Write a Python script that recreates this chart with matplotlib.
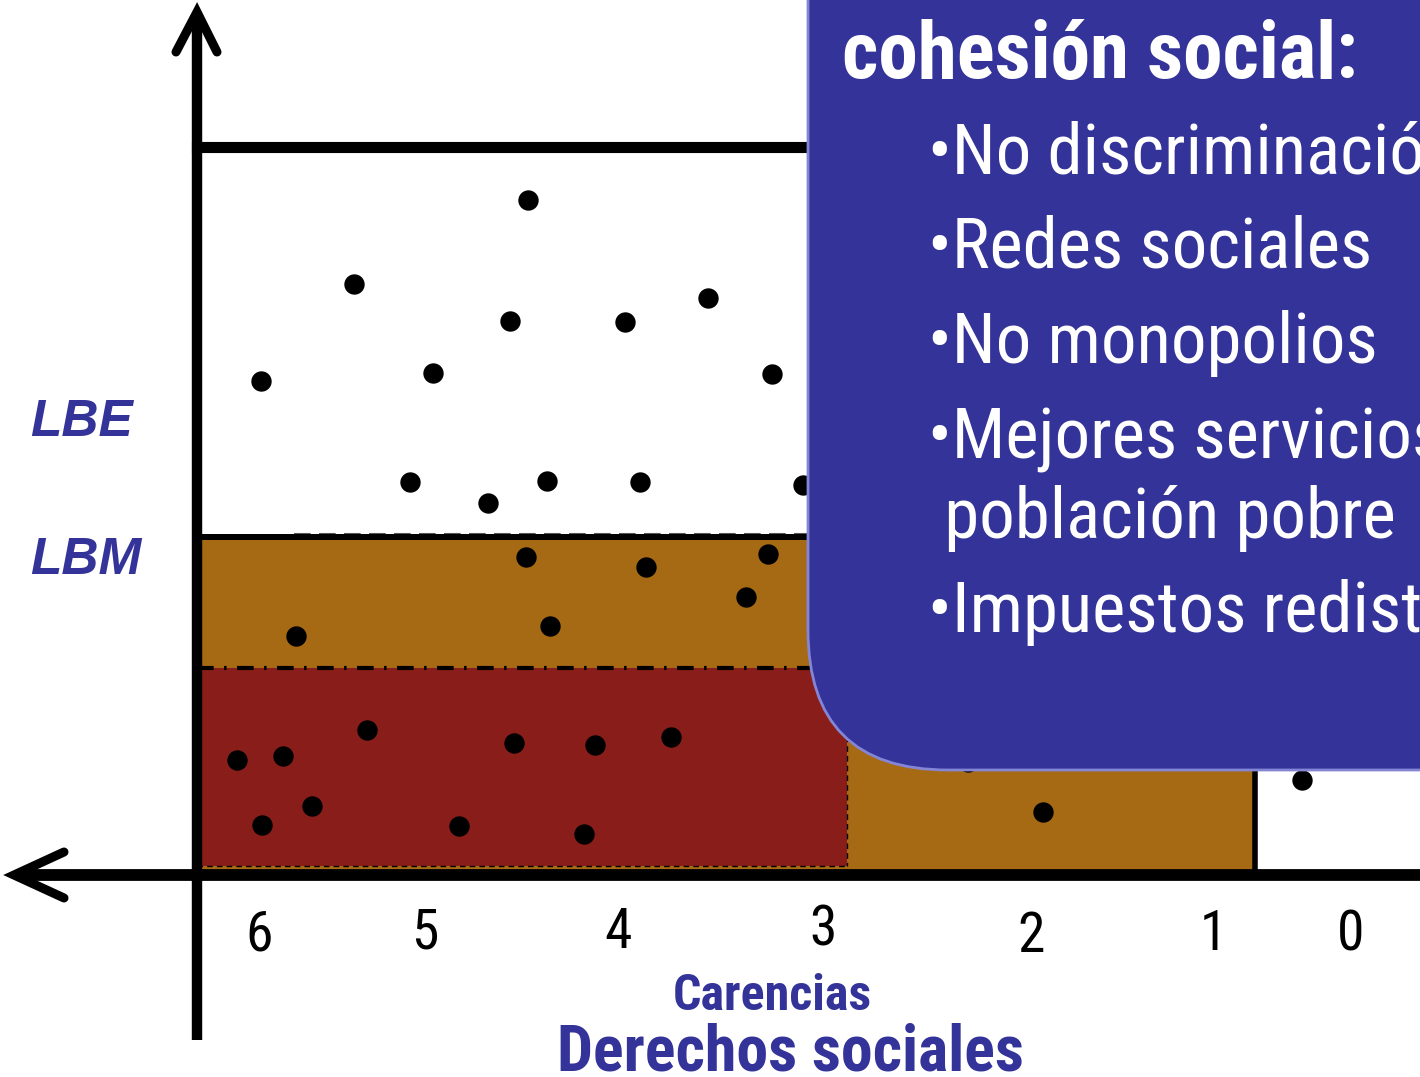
import matplotlib
matplotlib.use("Agg")
import matplotlib.pyplot as plt
from matplotlib.patches import Rectangle, FancyBboxPatch

# scatter of households (layout units, y grows downwards)
white_x = [528, 354, 510, 625, 708, 261, 433, 772, 410, 488, 547, 640, 803, 1302]
white_y = [200, 284, 321, 322, 298, 381, 373, 374, 482, 503, 481, 482, 485, 780]
orange_x = [526, 646, 768, 746, 550, 296, 1043, 968]
orange_y = [557, 567, 554, 597, 626, 636, 812, 762]
red_x = [237, 283, 367, 514, 595, 671, 262, 312, 459, 584]
red_y = [760, 756, 730, 743, 745, 737, 825, 806, 826, 834]

tick_labels = ["6", "5", "4", "3", "2", "1", "0"]
tick_x = [259, 425, 618, 823, 1031, 1213, 1351]
tick_y = [935, 933, 933, 930, 937, 935, 935]

bullets = ["•No discriminación", "•Redes sociales", "•No monopolios",
           "•Mejores servicios para la", " población pobre",
           "•Impuestos redistributivos"]
bullet_y = [173, 268, 363, 458, 538, 632]

# band limits
x0, x_red, x_orange = 197, 847, 1255
y_lbe, y_lbm, y_axis, y_top = 537, 668, 875, 147

ORANGE = "#A76A14"
RED = "#891D19"
BLUE = "#333399"
narrow = ["Liberation Sans Narrow", "Roboto Condensed", "Open Sans Condensed",
          "Liberation Sans", "DejaVu Sans"]

fig = plt.figure(figsize=(14.2, 10.77), dpi=100)
ax = fig.add_axes([0, 0, 1, 1])
ax.set_xlim(0, 1420)
ax.set_ylim(1077, 0)
ax.axis("off")

# coloured bands
ax.add_patch(Rectangle((x0, y_lbe), x_orange - x0, y_axis - y_lbe,
                       facecolor=ORANGE, edgecolor="none", zorder=1))
ax.add_patch(Rectangle((x0, y_lbm), x_red - x0, 866 - y_lbm,
                       facecolor=RED, edgecolor="none", zorder=2))

# band borders
ax.plot([294, x_orange], [533.5, 533.5], color="#555555", lw=1.5,
        linestyle=(0, (8, 4)), zorder=3)
ax.plot([x0, x_orange], [y_lbe, y_lbe], color="black", lw=4.3, zorder=4)
ax.plot([x0, x_red], [y_lbm, y_lbm], color="black", lw=3,
        linestyle=(0, (4, 2.5, 0.6, 2.5)), zorder=4)
ax.plot([x_red, x_red], [y_lbm, 866], color="black", lw=1,
        linestyle=(0, (4, 3)), zorder=4)
ax.plot([x0, x_red], [866, 866], color="black", lw=1,
        linestyle=(0, (4, 3)), zorder=4)
ax.plot([x_orange, x_orange], [y_lbe, y_axis], color="black", lw=4, zorder=4)
ax.plot([x0, 1420], [y_top, y_top], color="black", lw=8, zorder=4)

# axes with arrows
ax.plot([x0, x0], [1040, 14], color="black", lw=7.5, zorder=5,
        solid_capstyle="butt")
ax.plot([176, x0, 217], [52, 12, 52], color="black", lw=6.5, zorder=5,
        solid_capstyle="round", solid_joinstyle="miter")
ax.plot([16, 1420], [y_axis, y_axis], color="black", lw=8.5, zorder=5,
        solid_capstyle="butt")
ax.plot([64, 14, 64], [852, y_axis, 898], color="black", lw=6.5, zorder=5,
        solid_capstyle="round", solid_joinstyle="miter")

# points
for xs, ys in [(white_x, white_y), (orange_x, orange_y), (red_x, red_y)]:
    ax.scatter(xs, ys, s=215, color="black", linewidths=0, zorder=6)

# side labels
for lab, ly in [("LBE", 423), ("LBM", 560)]:
    ax.text(30, ly, lab, color=BLUE, fontsize=37, fontweight="bold",
            fontstyle="italic", family=["Liberation Sans", "DejaVu Sans"],
            ha="left", va="center", zorder=7)

for lab, tx, ty in zip(tick_labels, tick_x, tick_y):
    ax.text(tx, ty, lab, fontsize=40, family=narrow, ha="center",
            va="center", color="black", zorder=7)

ax.text(772, 997, "Carencias", color=BLUE, fontsize=36, fontweight="bold",
        family=narrow, ha="center", va="center", zorder=7)
ax.text(790, 1053, "Derechos sociales", color=BLUE, fontsize=46,
        fontweight="bold", family=narrow, ha="center", va="center", zorder=7)

# callout box
box = FancyBboxPatch((808, -300), 900, 1070,
                     boxstyle="round,pad=0,rounding_size=140",
                     facecolor=BLUE, edgecolor="#8585d6", lw=2, zorder=8)
ax.add_patch(box)

ax.text(842, 78, "cohesión social:", color="white", fontsize=57,
        fontweight="bold", family=narrow, ha="left", va="baseline", zorder=9)
for txt, by in zip(bullets, bullet_y):
    ax.text(928, by, txt, color="white", fontsize=51, family=narrow,
            ha="left", va="baseline", zorder=9)

fig.savefig("out.png", dpi=100)
